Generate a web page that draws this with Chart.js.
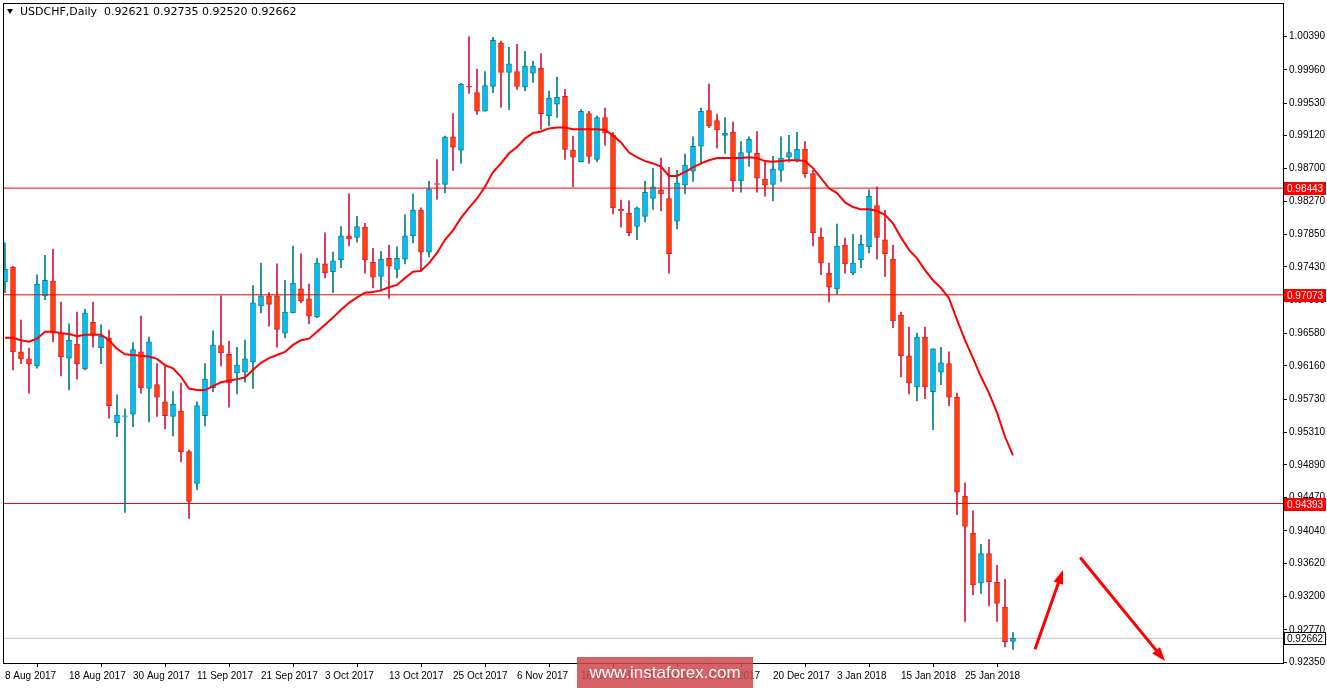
<!DOCTYPE html>
<html>
<head>
<meta charset="utf-8">
<script src="https://cdn.jsdelivr.net/npm/chart.js@4.4.0/dist/chart.umd.min.js"></script>
<style>
  html, body { margin: 0; padding: 0; background: #fff; overflow: hidden; }
  #wrap { width: 1327px; height: 693px; position: relative; margin-top: -5px; }
</style>
</head>
<body>
<div id="wrap"><canvas id="chart"></canvas></div>
<script>
// USDCHF daily candles, 8 Aug 2017 .. 31 Jan 2018
const open = [0.9724,0.9743,0.9634,0.9625,0.9616,0.9706,0.9725,0.9658,0.9626,0.9644,0.9612,0.9672,0.9639,0.9652,0.9543,0.9551,0.9554,0.9634,0.9587,0.9592,
  0.9570,0.9551,0.9558,0.9506,0.9465,0.9552,0.9588,0.9642,0.9631,0.9607,0.9608,0.9621,0.9693,0.9706,0.9706,0.9658,0.9684,0.9715,0.9702,0.9679,
  0.9747,0.9737,0.9752,0.9783,0.9781,0.9794,0.9749,0.9731,0.9754,0.9740,0.9753,0.9783,0.9816,0.9762,0.9850,0.9849,0.9910,0.9893,0.9975,0.9967,
  0.9943,0.9975,1.0031,0.9993,0.9994,0.9974,0.9992,0.9998,0.9937,0.9952,0.9962,0.9893,0.9878,0.9940,0.9881,0.9935,0.9912,0.9817,0.9812,0.9795,
  0.9808,0.9831,0.9842,0.9831,0.9802,0.9848,0.9866,0.9898,0.9944,0.9931,0.9912,0.9916,0.9854,0.9890,0.9889,0.9856,0.9849,0.9867,0.9884,0.9879,
  0.9894,0.9863,0.9781,0.9735,0.9715,0.9771,0.9735,0.9752,0.9769,0.9822,0.9778,0.9753,0.9681,0.9629,0.9589,0.9653,0.9583,0.9608,0.9619,0.9576,
  0.9449,0.9401,0.9337,0.9375,0.9338,0.9306,0.92621];
const high = [0.9774,0.9744,0.9675,0.9639,0.9733,0.9758,0.9766,0.9698,0.9670,0.9685,0.9689,0.9698,0.9669,0.9662,0.9579,0.9561,0.9646,0.9680,0.9653,0.9619,
  0.9616,0.9583,0.9594,0.9508,0.9570,0.9619,0.9661,0.9706,0.9648,0.9640,0.9649,0.9719,0.9748,0.9710,0.9747,0.9726,0.9770,0.9760,0.9721,0.9754,
  0.9787,0.9762,0.9795,0.9837,0.9808,0.9799,0.9767,0.9763,0.9771,0.9769,0.9810,0.9837,0.9819,0.9853,0.9881,0.9911,0.9940,0.9979,1.0039,0.9997,
  0.9994,1.0038,1.0033,1.0025,1.0029,1.0020,1.0007,1.0017,0.9969,0.9987,0.9971,0.9911,0.9945,0.9943,0.9937,0.9947,0.9916,0.9829,0.9828,0.9820,
  0.9853,0.9870,0.9883,0.9871,0.9867,0.9888,0.9910,0.9947,0.9978,0.9939,0.9935,0.9929,0.9904,0.9910,0.9917,0.9878,0.9885,0.9910,0.9912,0.9916,
  0.9904,0.9867,0.9793,0.9748,0.9798,0.9780,0.9785,0.9784,0.9842,0.9846,0.9816,0.9771,0.9685,0.9666,0.9658,0.9666,0.9638,0.9640,0.9634,0.9581,
  0.9466,0.9430,0.9387,0.9393,0.9360,0.9342,0.92735];
const low = [0.9710,0.9611,0.9619,0.9581,0.9613,0.9701,0.9647,0.9603,0.9585,0.9599,0.9611,0.9640,0.9619,0.9549,0.9525,0.9428,0.9538,0.9581,0.9544,0.9551,
  0.9535,0.9526,0.9493,0.9420,0.9457,0.9539,0.9583,0.9616,0.9563,0.9580,0.9595,0.9587,0.9684,0.9667,0.9640,0.9652,0.9684,0.9697,0.9670,0.9678,
  0.9729,0.9710,0.9742,0.9770,0.9775,0.9735,0.9716,0.9712,0.9703,0.9729,0.9747,0.9774,0.9737,0.9756,0.9830,0.9838,0.9867,0.9876,0.9966,0.9939,
  0.9943,0.9967,0.9948,0.9945,0.9971,0.9969,0.9980,0.9920,0.9924,0.9935,0.9881,0.9846,0.9878,0.9876,0.9878,0.9899,0.9811,0.9794,0.9783,0.9778,
  0.9801,0.9817,0.9815,0.9735,0.9792,0.9837,0.9853,0.9875,0.9922,0.9896,0.9889,0.9840,0.9839,0.9872,0.9839,0.9834,0.9828,0.9853,0.9878,0.9878,
  0.9858,0.9770,0.9733,0.9698,0.9708,0.9735,0.9733,0.9742,0.9761,0.9753,0.9731,0.9665,0.9602,0.9580,0.9571,0.9574,0.9534,0.9592,0.9565,0.9425,
  0.9288,0.9322,0.9324,0.9308,0.9288,0.9255,0.92520];
const close = [0.9740,0.9634,0.9625,0.9619,0.9721,0.9726,0.9658,0.9628,0.9649,0.9619,0.9684,0.9656,0.9654,0.9565,0.9553,0.9552,0.9637,0.9588,0.9647,0.9576,
  0.9552,0.9567,0.9506,0.9442,0.9565,0.9599,0.9643,0.9633,0.9594,0.9617,0.9625,0.9697,0.9706,0.9695,0.9663,0.9685,0.9722,0.9699,0.9680,0.9748,
  0.9735,0.9751,0.9783,0.9779,0.9795,0.9752,0.9730,0.9753,0.9744,0.9754,0.9783,0.9816,0.9762,0.9843,0.9849,0.9910,0.9897,0.9978,0.9974,0.9943,
  0.9976,1.0034,0.9993,1.0004,0.9975,1.0001,1.0001,0.9940,0.9960,0.9961,0.9894,0.9884,0.9943,0.9885,0.9935,0.9915,0.9819,0.9815,0.9787,0.9819,
  0.9839,0.9846,0.9837,0.9760,0.9851,0.9874,0.9898,0.9943,0.9924,0.9919,0.9915,0.9854,0.9890,0.9907,0.9857,0.9848,0.9869,0.9883,0.9890,0.9894,
  0.9863,0.9787,0.9748,0.9717,0.9770,0.9747,0.9748,0.9772,0.9834,0.9781,0.9760,0.9674,0.9629,0.9594,0.9653,0.9589,0.9638,0.9620,0.9576,0.9454,
  0.9410,0.9335,0.9375,0.9339,0.9311,0.9262,0.92662];
const maLine = [0.9652,0.9652,0.9649,0.9647,0.9651,0.9660,0.9660,0.9658,0.9657,0.9654,0.9656,0.9656,0.9656,0.9649,0.9638,0.9631,0.9630,0.9629,0.9628,0.9625,
  0.9617,0.9613,0.9602,0.9587,0.9585,0.9585,0.9590,0.9595,0.9597,0.9599,0.9601,0.9611,0.9620,0.9626,0.9630,0.9634,0.9643,0.9649,0.9651,0.9660,
  0.9669,0.9678,0.9688,0.9697,0.9704,0.9710,0.9711,0.9713,0.9717,0.9720,0.9729,0.9737,0.9738,0.9748,0.9761,0.9778,0.9790,0.9806,0.9819,0.9831,
  0.9846,0.9865,0.9876,0.9889,0.9897,0.9908,0.9915,0.9917,0.9921,0.9922,0.9922,0.9920,0.9920,0.9920,0.9920,0.9919,0.9912,0.9903,0.9890,0.9884,
  0.9879,0.9876,0.9872,0.9860,0.9860,0.9865,0.9871,0.9876,0.9880,0.9883,0.9883,0.9883,0.9883,0.9884,0.9883,0.9879,0.9878,0.9879,0.9880,0.9880,
  0.9879,0.9870,0.9857,0.9844,0.9838,0.9826,0.9820,0.9817,0.9817,0.9815,0.9810,0.9799,0.9781,0.9765,0.9754,0.9739,0.9726,0.9716,0.9703,0.9675,
  0.9649,0.9626,0.9602,0.9581,0.9556,0.9525,0.9501];
const levels = [0.98443, 0.97073, 0.94393];
const lastPrice = 0.92662;
const yTicks = [1.00390,0.99960,0.99530,0.99120,0.98700,0.98270,0.97850,0.97430,0.97000,0.96580,0.96160,0.95730,
  0.95310,0.94890,0.94470,0.94040,0.93620,0.93200,0.92770,0.92350];
const dateLabels = ['8 Aug 2017','18 Aug 2017','30 Aug 2017','11 Sep 2017','21 Sep 2017','3 Oct 2017','13 Oct 2017','25 Oct 2017',
  '6 Nov 2017','16 Nov 2017','28 Nov 2017','8 Dec 2017','20 Dec 2017','3 Jan 2018','15 Jan 2018','25 Jan 2018'];
// forecast arrows: [from index, from price, to index, to price]
const arrows = [[128.75, 0.9252, 132.25, 0.9354], [134.4, 0.9370, 145.0, 0.9237]];

const X_MIN = -0.25, X_MAX = 159.75;
const SHIFT = 5; // canvas is moved up by this much
const UP = '#00BFFF', UP_EDGE = '#008080', DN = '#FF4500', DN_EDGE = '#DC143C';
const isUp = i => close[i] >= open[i];

const wicks = high.map((h, i) => ({ x: i, y: [low[i], h] }));
const bodies = open.map((o, i) => {
  let a = o, b = close[i];
  if (Math.abs(a - b) < 0.00008) b = a + (isUp(i) ? 0.00008 : -0.00008);
  return { x: i, y: [a, b] };
});
const hline = v => [{ x: X_MIN, y: v }, { x: X_MAX, y: v }];

const framePlugin = {
  id: 'frame',
  afterDraw(chart) {
    const c = chart.ctx, a = chart.chartArea, y = chart.scales.y, x = chart.scales.x;
    c.save();
    c.strokeStyle = '#000'; c.lineWidth = 1;
    c.strokeRect(Math.round(a.left) + 0.5, Math.round(a.top) + 0.5, Math.round(a.right - a.left), Math.round(a.bottom - a.top));
    // arrows
    c.strokeStyle = '#FF0000'; c.fillStyle = '#FF0000'; c.lineWidth = 3;
    arrows.forEach(([i0, p0, i1, p1]) => {
      const x0 = x.getPixelForValue(i0), y0 = y.getPixelForValue(p0);
      const x1 = x.getPixelForValue(i1), y1 = y.getPixelForValue(p1);
      const ang = Math.atan2(y1 - y0, x1 - x0);
      c.beginPath(); c.moveTo(x0, y0);
      c.lineTo(x1 - 8 * Math.cos(ang), y1 - 8 * Math.sin(ang)); c.stroke();
      c.beginPath(); c.moveTo(x1, y1);
      c.lineTo(x1 - 14 * Math.cos(ang) + 5 * Math.sin(ang), y1 - 14 * Math.sin(ang) - 5 * Math.cos(ang));
      c.lineTo(x1 - 14 * Math.cos(ang) - 5 * Math.sin(ang), y1 - 14 * Math.sin(ang) + 5 * Math.cos(ang));
      c.closePath(); c.fill();
    });
    // price labels on the axis
    c.font = '10px "Liberation Sans", Arial, sans-serif';
    c.textBaseline = 'middle'; c.textAlign = 'left';
    const tag = (v, bg, fg) => {
      const py = Math.round(y.getPixelForValue(v));
      c.fillStyle = bg; c.fillRect(a.right + 1, py - 6, 42, 13);
      if (bg === '#fff') { c.strokeStyle = '#000'; c.lineWidth = 1; c.strokeRect(a.right + 1.5, py - 5.5, 41, 12); }
      c.fillStyle = fg; c.fillText(v.toFixed(5), a.right + 4, py + 1);
    };
    levels.forEach(v => tag(v, '#FF0000', '#fff'));
    tag(lastPrice, '#fff', '#000');
    // header
    c.fillStyle = '#000';
    c.beginPath(); c.moveTo(7, 9 + SHIFT); c.lineTo(13, 9 + SHIFT); c.lineTo(10, 14 + SHIFT); c.closePath(); c.fill();
    c.font = '11px "DejaVu Sans", sans-serif';
    c.fillText('USDCHF,Daily  0.92621 0.92735 0.92520 0.92662', 20, 12 + SHIFT);
    // watermark
    c.fillStyle = 'rgba(205,70,75,0.85)';
    c.fillRect(577, 657 + SHIFT, 176, 31);
    c.fillStyle = '#fff'; c.textAlign = 'center';
    c.font = '17px "Liberation Sans", Arial, sans-serif';
    c.fillText('www.instaforex.com', 665, 673 + SHIFT);
    c.restore();
  }
};

new Chart(document.getElementById('chart'), {
  data: {
    datasets: [
      { type: 'line', data: maLine.map((v, i) => ({ x: i, y: v })), borderColor: '#FF0000', borderWidth: 2, pointRadius: 0, order: 1 },
      ...levels.map(v => ({ type: 'line', data: hline(v), borderColor: '#FF0000', borderWidth: 1, pointRadius: 0, order: 1 })),
      { type: 'line', data: hline(lastPrice), borderColor: '#C0C0C0', borderWidth: 1, pointRadius: 0, order: 4 },
      { type: 'bar', data: wicks, grouped: false, barThickness: 1,
        backgroundColor: ctx => isUp(ctx.dataIndex) ? UP_EDGE : DN_EDGE, order: 3 },
      { type: 'bar', data: bodies, grouped: false, barThickness: 5, borderWidth: 1, borderSkipped: false,
        backgroundColor: ctx => isUp(ctx.dataIndex) ? UP : DN,
        borderColor: ctx => isUp(ctx.dataIndex) ? UP_EDGE : DN_EDGE, order: 2 }
    ]
  },
  options: {
    responsive: true, maintainAspectRatio: false, animation: false,
    layout: { padding: { left: 3, top: 0, right: 0, bottom: 0 } },
    plugins: { legend: { display: false }, tooltip: { enabled: false } },
    scales: {
      x: {
        type: 'linear', min: X_MIN, max: X_MAX, offset: false,
        grid: { display: true, drawOnChartArea: false, drawTicks: true, tickLength: 4, color: '#000' },
        border: { display: false },
        afterBuildTicks: ax => { ax.ticks = dateLabels.map((_, k) => ({ value: k * 8 })); },
        afterFit: ax => { ax.height = 25; },
        ticks: { autoSkip: false, maxRotation: 0, align: 'start', padding: 3, color: '#000',
          font: { family: '"Liberation Sans", Arial, sans-serif', size: 10 },
          callback: v => dateLabels[Math.round(v / 8)] }
      },
      y: {
        position: 'right', min: 0.92345, max: 1.00820,
        grid: { display: true, drawOnChartArea: false, drawTicks: true, tickLength: 4, color: '#000' },
        border: { display: false },
        afterBuildTicks: ax => { ax.ticks = yTicks.map(v => ({ value: v })); },
        afterFit: ax => { ax.width = 44; },
        ticks: { autoSkip: false, padding: 2, color: '#000',
          font: { family: '"Liberation Sans", Arial, sans-serif', size: 10 },
          callback: v => v.toFixed(5) }
      }
    }
  },
  plugins: [framePlugin]
});
</script>
</body>
</html>
